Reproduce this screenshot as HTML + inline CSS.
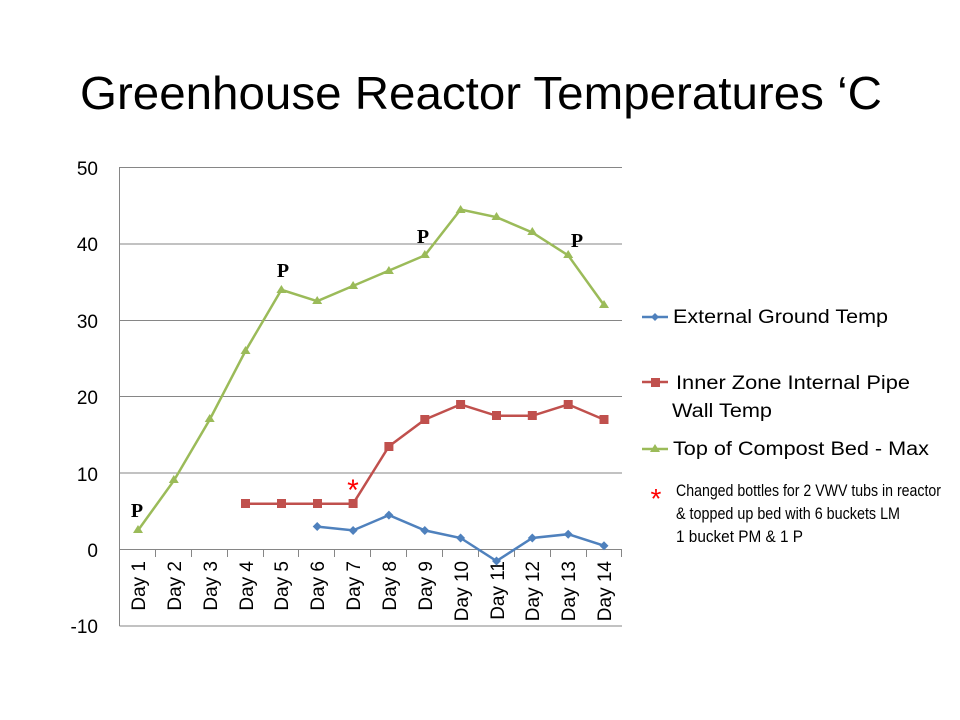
<!DOCTYPE html>
<html><head><meta charset="utf-8"><style>
body{margin:0;background:#fff;}
svg{display:block;}
text{font-family:"Liberation Sans",sans-serif;}
</style></head><body>
<svg width="960" height="720" xmlns="http://www.w3.org/2000/svg">
<text x="481" y="109" font-size="46" text-anchor="middle" textLength="802" lengthAdjust="spacingAndGlyphs" fill="#000">Greenhouse Reactor Temperatures ‘C</text>
<g stroke="#868686" stroke-width="1">
<line x1="119.5" y1="167.5" x2="622" y2="167.5"/>
<line x1="119.5" y1="244" x2="622" y2="244"/>
<line x1="119.5" y1="320.5" x2="622" y2="320.5"/>
<line x1="119.5" y1="396.5" x2="622" y2="396.5"/>
<line x1="119.5" y1="473" x2="622" y2="473"/>
<line x1="119.5" y1="549.5" x2="622" y2="549.5"/>
<line x1="119.5" y1="626" x2="622" y2="626"/>
<line x1="119.5" y1="167" x2="119.5" y2="626"/>
<line x1="155.5" y1="549" x2="155.5" y2="557"/><line x1="191.5" y1="549" x2="191.5" y2="557"/><line x1="227.5" y1="549" x2="227.5" y2="557"/><line x1="263.5" y1="549" x2="263.5" y2="557"/><line x1="298.5" y1="549" x2="298.5" y2="557"/><line x1="334.5" y1="549" x2="334.5" y2="557"/><line x1="370.5" y1="549" x2="370.5" y2="557"/><line x1="406.5" y1="549" x2="406.5" y2="557"/><line x1="442.5" y1="549" x2="442.5" y2="557"/><line x1="478.5" y1="549" x2="478.5" y2="557"/><line x1="514.5" y1="549" x2="514.5" y2="557"/><line x1="550.5" y1="549" x2="550.5" y2="557"/><line x1="586.5" y1="549" x2="586.5" y2="557"/><line x1="621.5" y1="549" x2="621.5" y2="557"/>
</g>
<g font-size="19" text-anchor="end" fill="#000">
<text x="98" y="175">50</text><text x="98" y="251">40</text><text x="98" y="328">30</text><text x="98" y="404">20</text><text x="98" y="481">10</text><text x="98" y="557">0</text><text x="98" y="633">-10</text>
</g>
<g font-size="19" fill="#000" text-anchor="end">
<text transform="translate(145,561) rotate(-90)">Day 1</text>
<text transform="translate(181,561) rotate(-90)">Day 2</text>
<text transform="translate(217,561) rotate(-90)">Day 3</text>
<text transform="translate(253,561) rotate(-90)">Day 4</text>
<text transform="translate(288,561) rotate(-90)">Day 5</text>
<text transform="translate(324,561) rotate(-90)">Day 6</text>
<text transform="translate(360,561) rotate(-90)">Day 7</text>
<text transform="translate(396,561) rotate(-90)">Day 8</text>
<text transform="translate(432,561) rotate(-90)">Day 9</text>
<text transform="translate(468,561) rotate(-90)">Day 10</text>
<text transform="translate(504,561) rotate(-90)">Day 11</text>
<text transform="translate(539,561) rotate(-90)">Day 12</text>
<text transform="translate(575,561) rotate(-90)">Day 13</text>
<text transform="translate(611,561) rotate(-90)">Day 14</text>
</g>
<polyline fill="none" stroke="#9BBB59" stroke-width="2.5" points="138,530.4 173.8,480.7 209.7,419.6 245.5,350.9 281.4,289.8 317.2,301.2 353.1,285.9 388.9,270.6 424.8,255.4 460.6,209.5 496.5,217.2 532.3,232.5 568.2,255.4 604,305.1"/>
<g fill="#9BBB59">
<path d="M138,525l5,8h-10z M173.8,475l5,8h-10z M209.7,414l5,8h-10z M245.5,346l5,8h-10z M281.4,285l5,8h-10z M317.2,296l5,8h-10z M353.1,281l5,8h-10z M388.9,266l5,8h-10z M424.8,250l5,8h-10z M460.6,205l5,8h-10z M496.5,212l5,8h-10z M532.3,227l5,8h-10z M568.2,250l5,8h-10z M604,300l5,8h-10z"/>
</g>
<polyline fill="none" stroke="#C0504D" stroke-width="2.5" points="245.5,503.7 281.4,503.7 317.2,503.7 353.1,503.7 388.9,446.4 424.8,419.6 460.6,404.4 496.5,415.8 532.3,415.8 568.2,404.4 604,419.6"/>
<g fill="#C0504D">
<rect x="241" y="499" width="9" height="9"/><rect x="277" y="499" width="9" height="9"/><rect x="313" y="499" width="9" height="9"/><rect x="348.6" y="499" width="9" height="9"/><rect x="384.4" y="442" width="9" height="9"/><rect x="420.3" y="415" width="9" height="9"/><rect x="456.1" y="400" width="9" height="9"/><rect x="492" y="411" width="9" height="9"/><rect x="527.8" y="411" width="9" height="9"/><rect x="563.7" y="400" width="9" height="9"/><rect x="599.5" y="415" width="9" height="9"/>
</g>
<polyline fill="none" stroke="#4F81BD" stroke-width="2.5" points="317.2,526.6 353.1,530.4 388.9,515.1 424.8,530.4 460.6,538 496.5,561 532.3,538 568.2,534.2 604,545.7"/>
<g fill="#4F81BD">
<path d="M317.2,522l4.5,4.5l-4.5,4.5l-4.5,-4.5z M353.1,526l4.5,4.5l-4.5,4.5l-4.5,-4.5z M388.9,510.6l4.5,4.5l-4.5,4.5l-4.5,-4.5z M424.8,526l4.5,4.5l-4.5,4.5l-4.5,-4.5z M460.6,533.5l4.5,4.5l-4.5,4.5l-4.5,-4.5z M496.5,556.5l4.5,4.5l-4.5,4.5l-4.5,-4.5z M532.3,533.5l4.5,4.5l-4.5,4.5l-4.5,-4.5z M568.2,529.7l4.5,4.5l-4.5,4.5l-4.5,-4.5z M604,541.2l4.5,4.5l-4.5,4.5l-4.5,-4.5z"/>
</g>
<g font-weight="bold" font-size="20" text-anchor="middle" fill="#000">
<text x="137" y="517" style="font-family:'Liberation Serif',serif">P</text>
<text x="283" y="277" style="font-family:'Liberation Serif',serif">P</text>
<text x="423" y="243" style="font-family:'Liberation Serif',serif">P</text>
<text x="577" y="247" style="font-family:'Liberation Serif',serif">P</text>
</g>
<text x="353" y="500" font-size="30" fill="#ff0000" text-anchor="middle">*</text>
<line x1="642" y1="317" x2="668" y2="317" stroke="#4F81BD" stroke-width="2.5"/>
<path d="M655,313l4,4l-4,4l-4,-4z" fill="#4F81BD"/>
<text x="673" y="323" font-size="19" textLength="215" lengthAdjust="spacingAndGlyphs">External Ground Temp</text>
<line x1="642" y1="382" x2="668" y2="382" stroke="#C0504D" stroke-width="2.5"/>
<rect x="651" y="378" width="9" height="9" fill="#C0504D"/>
<text x="676" y="389" font-size="19" textLength="234" lengthAdjust="spacingAndGlyphs">Inner Zone Internal Pipe</text>
<text x="672" y="417" font-size="19" textLength="100" lengthAdjust="spacingAndGlyphs">Wall Temp</text>
<line x1="642" y1="449" x2="668" y2="449" stroke="#9BBB59" stroke-width="2.5"/>
<path d="M655,444l5,8h-10z" fill="#9BBB59"/>
<text x="673" y="455" font-size="19" textLength="256" lengthAdjust="spacingAndGlyphs">Top of Compost Bed - Max</text>
<text x="656" y="508" font-size="28" fill="#ff0000" text-anchor="middle">*</text>
<text x="676" y="496" font-size="17" textLength="265" lengthAdjust="spacingAndGlyphs">Changed bottles for 2 VWV tubs in reactor</text>
<text x="676" y="519" font-size="17" textLength="224" lengthAdjust="spacingAndGlyphs">&amp; topped up bed with 6 buckets LM</text>
<text x="676" y="542" font-size="17" textLength="127" lengthAdjust="spacingAndGlyphs">1 bucket PM &amp; 1 P</text>
</svg>
</body></html>
